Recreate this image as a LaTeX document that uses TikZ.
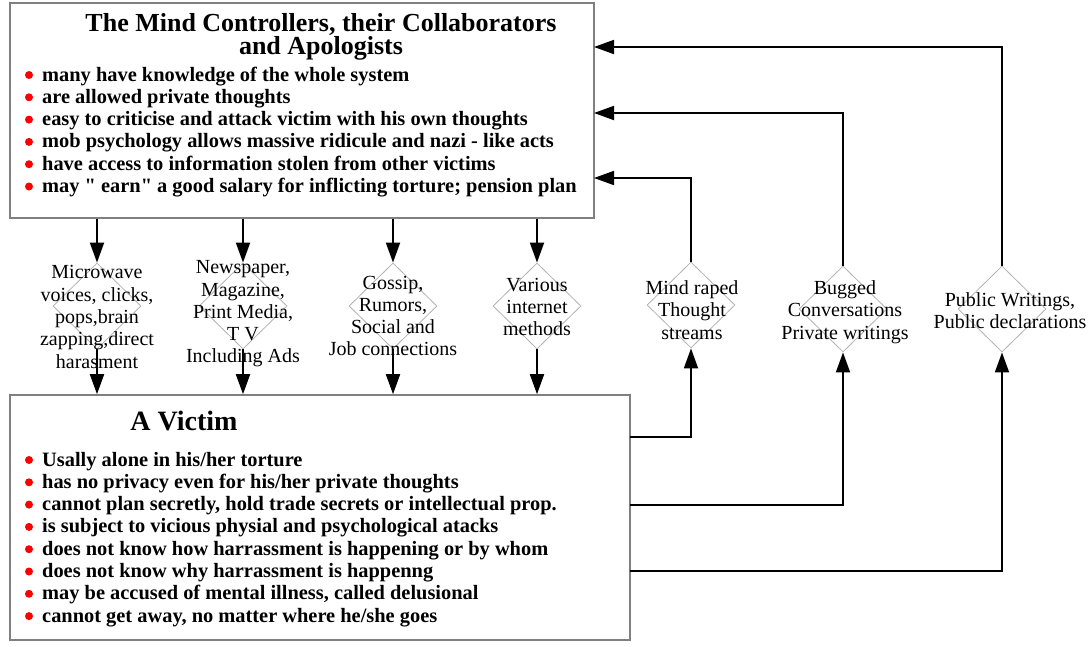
\documentclass[tikz,border=0pt]{standalone}
\usepackage{fontspec}
\setmainfont{Liberation Serif}[Ligatures=TeXOff]
\usetikzlibrary{arrows.meta,shapes.geometric}
\tikzset{
  panel/.style={draw=black!50, line width=1.6pt, inner sep=0pt},
  gate/.style={diamond, draw=black!30, line width=0.8pt, inner sep=0pt, minimum width=88pt, minimum height=86pt},
  gatetext/.style={align=center, inner sep=0pt, font=\fontsize{20}{22.3}\selectfont},
  ttl/.style={align=center, inner sep=0pt, font=\fontsize{26}{23}\selectfont\bfseries},
  item/.style={anchor=base west, inner sep=0pt, font=\fontsize{20.4}{22}\selectfont\bfseries},
  flow/.style={line width=1.8pt, -{Triangle[length=20pt,width=14pt]}},
}
\begin{document}
\begin{tikzpicture}[x=1pt,y=-1pt]
\useasboundingbox (0,0) rectangle (1090,646);
\node[panel, minimum width=584pt, minimum height=215pt] (ctrl) at (302,110.5) {};
\node[panel, minimum width=620pt, minimum height=245pt] (vic) at (320,517.5) {};
\node[ttl] (ttl) at (321,36.5) {The Mind Controllers, their Collaborators\\and Apologists};
\node[ttl, anchor=base, font=\fontsize{28}{28}\selectfont\bfseries] (vttl) at (184,430) {A Victim};
\foreach \t [count=\i] in {many have knowledge of the whole system, are allowed private thoughts, easy to criticise and attack victim with his own thoughts, mob psychology allows massive ridicule and nazi - like acts, have access to information stolen from other victims, may " earn" a good salary for inflicting torture; pension plan}{
  \pgfmathsetmacro\yy{58.7+22.3*\i}
  \fill[red] (29,\yy-6) circle (4pt);
  \node[item] (c\i) at (42,\yy) {\t};
}
\foreach \t [count=\i] in {Usally alone in his/her torture, has no privacy even for his/her private thoughts, {cannot plan secretly, hold trade secrets or intellectual prop.}, is subject to vicious physial and psychological atacks, does not know how harrassment is happening or by whom, does not know why harrassment is happenng, {may be accused of mental illness, called delusional}, {cannot get away, no matter where he/she goes}}{
  \pgfmathsetmacro\yy{443.7+22.3*\i}
  \fill[red] (29,\yy-6) circle (4pt);
  \node[item] (v\i) at (42,\yy) {\t};
}
\node[gate] (d1) at (97,306) {};
\node[gate] (d2) at (243,306) {};
\node[gate] (d3) at (393,306) {};
\node[gate] (d4) at (537,306) {};
\node[gate] (d5) at (691,305) {};
\node[gate] (d6) at (843,309) {};
\node[gate] (d7) at (1002,309) {};
\node[gatetext] (t1) at (97,317) {Microwave\\voices, clicks,\\pops,brain\\zapping,direct\\harasment};
\node[gatetext] (t2) at (243,314) {Newspaper,\\Magazine,\\Print Media,\\T V\\Including Ads};
\node[gatetext] (t3) at (393,316) {Gossip,\\Rumors,\\Social and\\Job connections};
\node[gatetext] (t4) at (537,307) {Various\\internet\\methods};
\node[gatetext] (t5) at (692,310) {Mind raped\\Thought\\streams};
\node[gatetext] (t6) at (845,312) {Bugged\\Conversations\\Private writings};
\node[gatetext] (t7) at (1010,311) {Public Writings,\\Public declarations};
\foreach \d in {d1,d2,d3,d4}{
  \draw[flow] (ctrl.south -| \d.north) -- (\d.north);
  \draw[flow] (\d.south) -- (vic.north -| \d.south);
}
\coordinate (o5) at (630,437);
\coordinate (o6) at (630,505);
\coordinate (o7) at (630,571);
\coordinate (i5) at (594,178);
\coordinate (i6) at (594,113);
\coordinate (i7) at (594,47);
\foreach \n in {5,6,7}{
  \draw[flow] (o\n) -| (d\n.south);
  \draw[flow] (d\n.north) |- (i\n);
}
\end{tikzpicture}
\end{document}
